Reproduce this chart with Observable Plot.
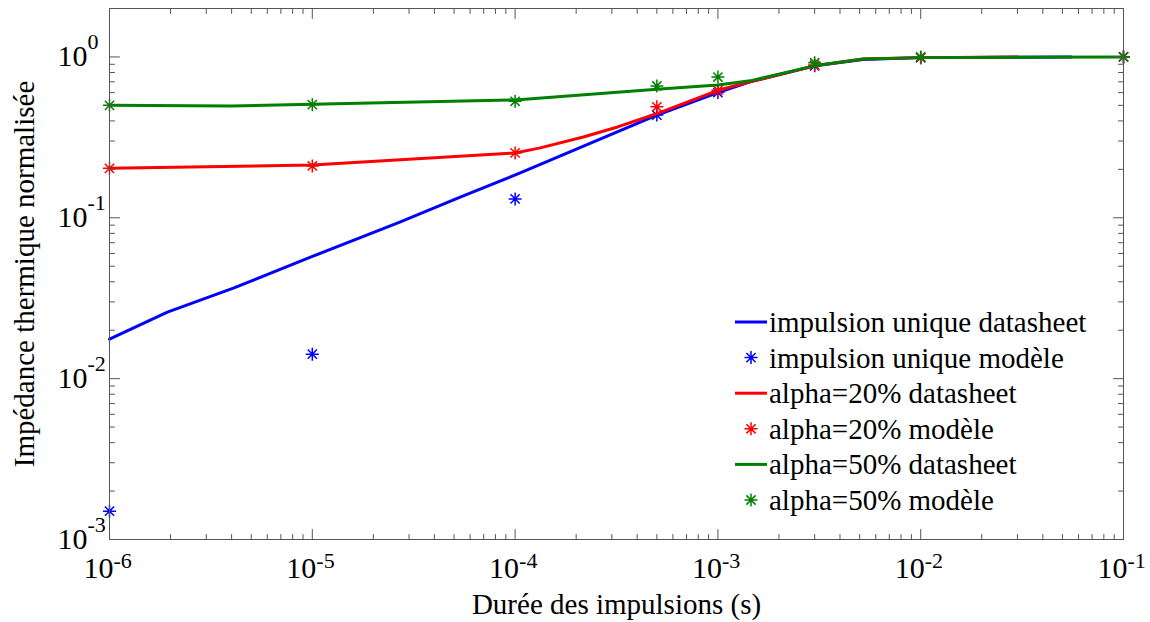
<!DOCTYPE html>
<html>
<head>
<meta charset="utf-8">
<script src="https://cdn.jsdelivr.net/npm/d3@7"></script>
<script src="https://cdn.jsdelivr.net/npm/@observablehq/plot@0.6"></script>
<style>
  body { margin: 0; background: #fff; }
  #chart { width: 1150px; height: 622px; }
</style>
</head>
<body>
<div id="chart"></div>
<script>
// ---- data ----
const modelX = [1e-6, 1e-5, 1e-4, 5e-4, 1e-3, 3e-3, 1e-2, 1e-1];
const uniqueModel = [0.0015, 0.0142, 0.131, 0.435, 0.60, 0.88, 0.99, 1.0];
const alpha20Model = [0.203, 0.21, 0.253, 0.49, 0.62, 0.89, 0.99, 1.0];
const alpha50Model = [0.50, 0.505, 0.53, 0.66, 0.75, 0.92, 1.0, 1.0];

const uniqueSheetX = [1e-6, 1.93e-6, 4.08e-6, 9.8e-6, 2.7e-5, 5.4e-5, 1.06e-4, 4.9e-4, 1e-3, 1.44e-3, 3e-3, 5.2e-3, 1e-2, 5.5e-2];
const uniqueSheet  = [0.0176, 0.0259, 0.0365, 0.0569, 0.094, 0.135, 0.19, 0.43, 0.60, 0.70, 0.88, 0.965, 0.99, 1.0];

const alpha20SheetX = [1e-6, 1e-5, 1e-4, 1.33e-4, 2.17e-4, 3.2e-4, 4.9e-4, 1e-3, 1.44e-3, 3e-3, 5.2e-3, 1e-2, 3e-2];
const alpha20Sheet  = [0.203, 0.213, 0.253, 0.272, 0.318, 0.367, 0.44, 0.62, 0.70, 0.88, 0.97, 0.99, 1.0];

const alpha50SheetX = [1e-6, 4e-6, 1e-5, 1e-4, 5e-4, 1e-3, 1.44e-3, 3e-3, 5.2e-3, 1e-2, 1e-1];
const alpha50Sheet  = [0.50, 0.496, 0.508, 0.54, 0.63, 0.67, 0.71, 0.88, 0.97, 0.99, 1.0];

const seriesNames = ["impulsion unique datasheet", "impulsion unique modèle", "alpha=20% datasheet", "alpha=20% modèle", "alpha=50% datasheet", "alpha=50% modèle"];
const seriesColors = ["#0000ff", "#0000ff", "#ff0000", "#ff0000", "#008000", "#008000"];
const seriesKinds = ["line", "star", "line", "star", "line", "star"];

const xMajor = [1e-6, 1e-5, 1e-4, 1e-3, 1e-2, 1e-1];
const xExp = ["-6", "-5", "-4", "-3", "-2", "-1"];
const yMajor = [1e-3, 1e-2, 1e-1, 1];
const yExp = ["-3", "-2", "-1", "0"];
const xLabel = "Durée des impulsions (s)";
const yLabel = "Impédance thermique normalisée";

// ---- helpers ----
const minorOf = (decades) => decades.flatMap(d => [2,3,4,5,6,7,8,9].map(k => k * d));
const xMinor = minorOf([1e-6, 1e-5, 1e-4, 1e-3, 1e-2]);
const yMinor = minorOf([1e-3, 1e-2, 1e-1]);
const zip = (xs, ys) => xs.map((x, i) => ({x, y: ys[i]}));

const star = {
  draw(ctx, size) {
    const r = Math.sqrt(size / Math.PI);
    const d = r * Math.SQRT1_2;
    ctx.moveTo(-r, 0); ctx.lineTo(r, 0);
    ctx.moveTo(0, -r); ctx.lineTo(0, r);
    ctx.moveTo(-d, -d); ctx.lineTo(d, d);
    ctx.moveTo(-d, d); ctx.lineTo(d, -d);
  }
};
const tickShape = { draw(ctx, l) { ctx.moveTo(0, 0); ctx.lineTo(0, -l); } };
const axisColor = "#555";
const FONT = "'Liberation Serif', 'Times New Roman', serif";

function ticks(values, ch, anchor, rotate, length) {
  return Plot.vector(values, {
    [ch]: d => d, frameAnchor: anchor, rotate, length, anchor: "start",
    shape: tickShape, stroke: axisColor, strokeWidth: 1
  });
}

const lineMark = (data, color) => Plot.line(data, {x: "x", y: "y", stroke: color, strokeWidth: 3, curve: "linear"});
const starMark = (data, color) => Plot.dot(data, {x: "x", y: "y", symbol: star, r: 6.5, fill: "none", stroke: color, strokeWidth: 1.5});

const chart = Plot.plot({
  width: 1150,
  height: 622,
  marginLeft: 109,
  marginRight: 27,
  marginTop: 8,
  marginBottom: 83,
  style: {fontFamily: FONT, background: "#fff", color: "#000"},
  x: {type: "log", domain: [1e-6, 1e-1], axis: null},
  y: {type: "log", domain: [1e-3, 2], axis: null},
  marks: [
    // series
    lineMark(zip(uniqueSheetX, uniqueSheet), seriesColors[0]),
    starMark(zip(modelX, uniqueModel), seriesColors[1]),
    lineMark(zip(alpha20SheetX, alpha20Sheet), seriesColors[2]),
    starMark(zip(modelX, alpha20Model), seriesColors[3]),
    lineMark(zip(alpha50SheetX, alpha50Sheet), seriesColors[4]),
    starMark(zip(modelX, alpha50Model), seriesColors[5]),
    // frame + inward ticks on all four sides
    Plot.frame({stroke: axisColor, strokeWidth: 1}),
    ticks(xMajor, "x", "bottom", 0, 10),
    ticks(xMinor, "x", "bottom", 0, 5),
    ticks(xMajor, "x", "top", 180, 10),
    ticks(xMinor, "x", "top", 180, 5),
    ticks(yMajor, "y", "left", 90, 10),
    ticks(yMinor, "y", "left", 90, 5),
    ticks(yMajor, "y", "right", -90, 10),
    ticks(yMinor, "y", "right", -90, 5),
    // tick labels 10^n
    Plot.text(xMajor, {x: d => d, frameAnchor: "bottom", text: () => "10", textAnchor: "end", lineAnchor: "bottom", dx: 4, dy: 38, fontSize: 30, fill: "#000"}),
    Plot.text(xMajor, {x: d => d, frameAnchor: "bottom", text: (d, i) => xExp[i], textAnchor: "start", lineAnchor: "bottom", dx: 4, dy: 28, fontSize: 22, fill: "#000"}),
    Plot.text(yMajor, {y: d => d, frameAnchor: "left", text: () => "10", textAnchor: "end", lineAnchor: "bottom", dx: -22, dy: 9, fontSize: 30, fill: "#000"}),
    Plot.text(yMajor, {y: d => d, frameAnchor: "left", text: (d, i) => yExp[i], textAnchor: "start", lineAnchor: "bottom", dx: -22, dy: -8, fontSize: 22, fill: "#000"}),
    // axis titles
    Plot.text([xLabel], {frameAnchor: "bottom", textAnchor: "middle", lineAnchor: "bottom", dy: 74, fontSize: 29, fill: "#000"}),
    Plot.text([yLabel], {frameAnchor: "left", textAnchor: "middle", rotate: -90, lineAnchor: "bottom", dx: -76, fontSize: 29, fill: "#000"})
  ]
});

document.getElementById("chart").appendChild(chart);

// ---- legend (inside the plot, lower right) ----
const leg = d3.select(chart).append("g")
  .attr("transform", "translate(735,322)")
  .attr("font-family", FONT)
  .attr("font-size", 29)
  .attr("text-anchor", "start");
const rowH = 35.6;
seriesNames.forEach((name, i) => {
  const row = leg.append("g").attr("transform", `translate(0,${i * rowH})`);
  if (seriesKinds[i] === "line") {
    row.append("line").attr("x1", 0).attr("x2", 32).attr("y1", 0).attr("y2", 0)
      .attr("stroke", seriesColors[i]).attr("stroke-width", 3);
  } else {
    row.append("path").attr("transform", "translate(16,0)")
      .attr("d", d3.symbol(star, Math.PI * 6.5 * 6.5)())
      .attr("fill", "none").attr("stroke", seriesColors[i]).attr("stroke-width", 1.5);
  }
  row.append("text").attr("x", 34).attr("y", 10).attr("text-anchor", "start").attr("fill", "#000").text(name);
});
</script>
</body>
</html>
